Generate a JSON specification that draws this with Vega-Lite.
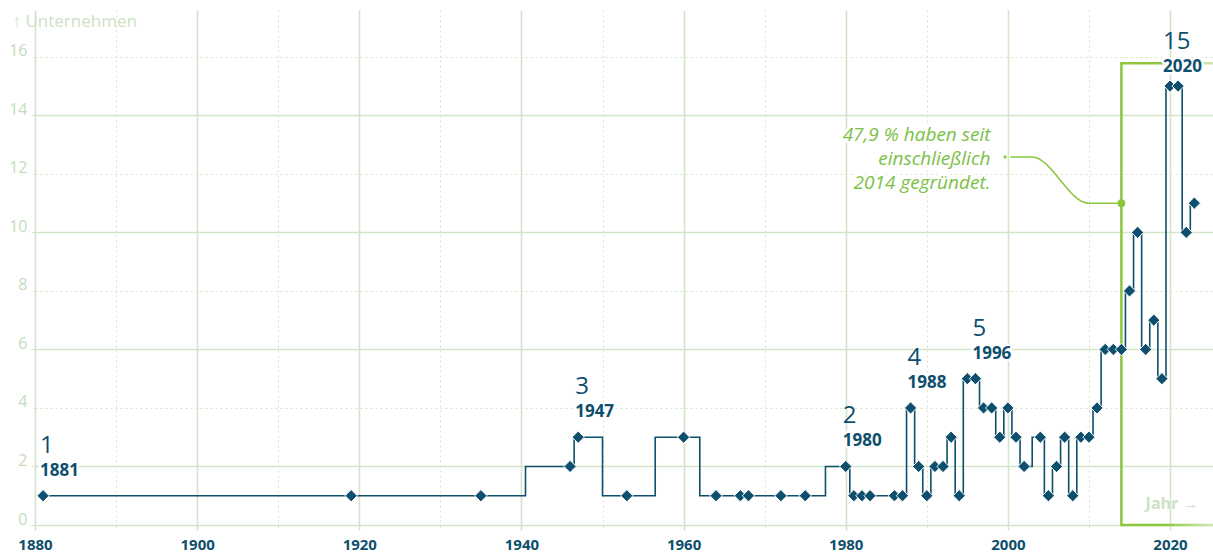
{
  "$schema": "https://vega.github.io/schema/vega-lite/v6.json",
  "width": 1178,
  "height": 515,
  "autosize": {"type": "none"},
  "padding": {"left": 35, "top": 10, "right": 0, "bottom": 28},
  "background": "white",
  "config": {
    "view": {"stroke": null},
    "font": "Open Sans"
  },
  "datasets": {
    "main": [
      {"year": 1881, "n": 1, "label": true},
      {"year": 1919, "n": 1, "label": false},
      {"year": 1935, "n": 1, "label": false},
      {"year": 1946, "n": 2, "label": false},
      {"year": 1947, "n": 3, "label": true},
      {"year": 1953, "n": 1, "label": false},
      {"year": 1960, "n": 3, "label": false},
      {"year": 1964, "n": 1, "label": false},
      {"year": 1967, "n": 1, "label": false},
      {"year": 1968, "n": 1, "label": false},
      {"year": 1972, "n": 1, "label": false},
      {"year": 1975, "n": 1, "label": false},
      {"year": 1980, "n": 2, "label": true},
      {"year": 1981, "n": 1, "label": false},
      {"year": 1982, "n": 1, "label": false},
      {"year": 1983, "n": 1, "label": false},
      {"year": 1986, "n": 1, "label": false},
      {"year": 1987, "n": 1, "label": false},
      {"year": 1988, "n": 4, "label": true},
      {"year": 1989, "n": 2, "label": false},
      {"year": 1990, "n": 1, "label": false},
      {"year": 1991, "n": 2, "label": false},
      {"year": 1992, "n": 2, "label": false},
      {"year": 1993, "n": 3, "label": false},
      {"year": 1994, "n": 1, "label": false},
      {"year": 1995, "n": 5, "label": false},
      {"year": 1996, "n": 5, "label": true},
      {"year": 1997, "n": 4, "label": false},
      {"year": 1998, "n": 4, "label": false},
      {"year": 1999, "n": 3, "label": false},
      {"year": 2000, "n": 4, "label": false},
      {"year": 2001, "n": 3, "label": false},
      {"year": 2002, "n": 2, "label": false},
      {"year": 2004, "n": 3, "label": false},
      {"year": 2005, "n": 1, "label": false},
      {"year": 2006, "n": 2, "label": false},
      {"year": 2007, "n": 3, "label": false},
      {"year": 2008, "n": 1, "label": false},
      {"year": 2009, "n": 3, "label": false},
      {"year": 2010, "n": 3, "label": false},
      {"year": 2011, "n": 4, "label": false},
      {"year": 2012, "n": 6, "label": false},
      {"year": 2013, "n": 6, "label": false},
      {"year": 2014, "n": 6, "label": false},
      {"year": 2015, "n": 8, "label": false},
      {"year": 2016, "n": 10, "label": false},
      {"year": 2017, "n": 6, "label": false},
      {"year": 2018, "n": 7, "label": false},
      {"year": 2019, "n": 5, "label": false},
      {"year": 2020, "n": 15, "label": true},
      {"year": 2021, "n": 15, "label": false},
      {"year": 2022, "n": 10, "label": false},
      {"year": 2023, "n": 11, "label": false}
    ]
  },
  "encoding": {
    "x": {
      "field": "year",
      "type": "quantitative",
      "scale": {"domain": [1880, 2025.3], "nice": false, "zero": false},
      "axis": {
        "values": [1880, 1890, 1900, 1910, 1920, 1930, 1940, 1950, 1960, 1970, 1980, 1990, 2000, 2010, 2020],
        "format": "d",
        "labelExpr": "datum.value % 20 === 0 ? datum.label : ''",
        "labelFont": "Open Sans",
        "labelFontSize": 15,
        "labelFontWeight": "bold",
        "labelColor": "#0d4f6c",
        "labelPadding": 7,
        "labelFlush": false,
        "labelOverlap": false,
        "domain": false,
        "ticks": true,
        "tickSize": 5,
        "tickColor": "#d2e5cb",
        "tickWidth": {"condition": {"test": "datum.value % 20 === 0", "value": 1.6}, "value": 1},
        "tickDash": {"condition": {"test": "datum.value % 20 === 0", "value": []}, "value": [2, 3]},
        "grid": true,
        "gridColor": "#d2e5cb",
        "gridWidth": {"condition": {"test": "datum.value % 20 === 0", "value": 1.6}, "value": 1},
        "gridDash": {"condition": {"test": "datum.value % 20 === 0", "value": []}, "value": [2, 3]},
        "title": "Jahr →",
        "titleFont": "Open Sans",
        "titleFontSize": 16,
        "titleFontWeight": "bold",
        "titleColor": "#cde2c6",
        "titleAlign": "right",
        "titleBaseline": "middle",
        "titleAnchor": null,
        "titleX": 1163,
        "titleY": -22
      }
    },
    "y": {
      "field": "n",
      "type": "quantitative",
      "scale": {"domain": [0, 17.6], "nice": false},
      "axis": {
        "values": [0, 2, 4, 6, 8, 10, 12, 14, 16],
        "labelFont": "Open Sans",
        "labelFontSize": 16,
        "labelColor": "#c3ddbb",
        "labelBaseline": "alphabetic",
        "labelPadding": 4,
        "labelOffset": -1,
        "domain": false,
        "ticks": true,
        "tickSize": 4,
        "tickColor": "#d2e5cb",
        "tickDash": {"condition": {"test": "datum.value % 4 === 0 && datum.value > 0", "value": [2, 3]}, "value": []},
        "grid": true,
        "gridColor": "#d2e5cb",
        "gridWidth": {"condition": {"test": "datum.value % 4 === 0 && datum.value > 0", "value": 1}, "value": 1.6},
        "gridDash": {"condition": {"test": "datum.value % 4 === 0 && datum.value > 0", "value": [2, 3]}, "value": []},
        "title": "↑ Unternehmen",
        "titleFont": "Open Sans",
        "titleFontSize": 17,
        "titleFontWeight": "normal",
        "titleColor": "#cde2c6",
        "titleAngle": 0,
        "titleAlign": "left",
        "titleBaseline": "middle",
        "titleAnchor": null,
        "titleX": -23,
        "titleY": 11
      }
    }
  },
  "layer": [
    {
      "data": {"values": [{"x": 2014, "x2": 2027, "y": 0, "y2": 15.78}]},
      "mark": {
        "type": "rect",
        "fill": null,
        "strokeWidth": 2.5,
        "clip": false,
        "stroke": {
          "gradient": "linear", "x1": 0, "y1": 0, "x2": 1, "y2": 0,
          "stops": [
            {"offset": 0, "color": "#8cc63f"},
            {"offset": 0.4, "color": "#8cc63f"},
            {"offset": 1, "color": "#e3f1d6"}
          ]
        }
      },
      "encoding": {
        "x": {"field": "x", "type": "quantitative"},
        "x2": {"field": "x2"},
        "y": {"field": "y", "type": "quantitative"},
        "y2": {"field": "y2"}
      }
    },
    {
      "data": {"values": [
        {"x": 2000.3, "y": 12.58},
        {"x": 2003.0, "y": 12.58},
        {"x": 2009.9, "y": 11.0},
        {"x": 2014, "y": 11.0}
      ]},
      "mark": {"type": "line", "interpolate": "monotone", "color": "#8cc63f", "strokeWidth": 1.5},
      "encoding": {
        "x": {"field": "x", "type": "quantitative"},
        "y": {"field": "y", "type": "quantitative"}
      }
    },
    {
      "data": {"values": [{"x": 1999.65, "y": 12.58, "s": 10}, {"x": 2014, "y": 11.0, "s": 60}]},
      "mark": {"type": "circle", "color": "#8cc63f", "opacity": 1},
      "encoding": {
        "x": {"field": "x", "type": "quantitative"},
        "y": {"field": "y", "type": "quantitative"},
        "size": {"field": "s", "type": "quantitative", "scale": null, "legend": null}
      }
    },
    {
      "data": {"values": [{"x": 1997.85, "y": 13.33, "t": ["47,9 % haben seit", "einschließlich", "2014 gegründet."]}]},
      "mark": {"type": "text", "align": "right", "baseline": "middle", "font": "Open Sans", "fontSize": 19, "fontStyle": "italic", "lineHeight": 24, "stroke": "white", "strokeWidth": 5, "strokeJoin": "round", "fill": "white"},
      "encoding": {
        "x": {"field": "x", "type": "quantitative"},
        "y": {"field": "y", "type": "quantitative"},
        "text": {"field": "t"}
      }
    },
    {
      "data": {"values": [{"x": 1997.85, "y": 13.33, "t": ["47,9 % haben seit", "einschließlich", "2014 gegründet."]}]},
      "mark": {"type": "text", "align": "right", "baseline": "middle", "font": "Open Sans", "fontSize": 19, "fontStyle": "italic", "lineHeight": 24, "color": "#7cbf45"},
      "encoding": {
        "x": {"field": "x", "type": "quantitative"},
        "y": {"field": "y", "type": "quantitative"},
        "text": {"field": "t"}
      }
    },
    {
      "data": {"name": "main"},
      "mark": {"type": "line", "interpolate": "step", "color": "#0d4f6c", "strokeWidth": 1.6}
    },
    {
      "data": {"name": "main"},
      "mark": {"type": "point", "shape": "diamond", "filled": true, "size": 150, "color": "#0d4f6c", "stroke": "white", "strokeWidth": 1, "opacity": 1}
    },
    {
      "data": {"name": "main"},
      "transform": [{"filter": "datum.label && datum.year !== 2020"}],
      "layer": [
        {
          "mark": {"type": "text", "align": "left", "baseline": "alphabetic", "dx": -3, "dy": -20, "font": "Open Sans", "fontSize": 17, "fontWeight": "bold", "stroke": "white", "strokeWidth": 5, "strokeJoin": "round", "fill": "white"},
          "encoding": {"text": {"field": "year", "type": "quantitative", "format": "d"}}
        },
        {
          "mark": {"type": "text", "align": "left", "baseline": "alphabetic", "dx": -3, "dy": -20, "font": "Open Sans", "fontSize": 17, "fontWeight": "bold", "color": "#0d4f6c"},
          "encoding": {"text": {"field": "year", "type": "quantitative", "format": "d"}}
        },
        {
          "mark": {"type": "text", "align": "left", "baseline": "alphabetic", "dx": -3, "dy": -43, "font": "Open Sans", "fontSize": 24, "color": "#0d4f6c"},
          "encoding": {"text": {"field": "n", "type": "quantitative"}}
        }
      ]
    },
    {
      "data": {"name": "main"},
      "transform": [{"filter": "datum.year === 2020"}],
      "layer": [
        {
          "mark": {"type": "text", "align": "left", "baseline": "alphabetic", "dx": -7, "dy": -14, "font": "Open Sans", "fontSize": 17, "fontWeight": "bold", "stroke": "white", "strokeWidth": 5, "strokeJoin": "round", "fill": "white"},
          "encoding": {"text": {"field": "year", "type": "quantitative", "format": "d"}}
        },
        {
          "mark": {"type": "text", "align": "left", "baseline": "alphabetic", "dx": -7, "dy": -14, "font": "Open Sans", "fontSize": 17, "fontWeight": "bold", "color": "#0d4f6c"},
          "encoding": {"text": {"field": "year", "type": "quantitative", "format": "d"}}
        },
        {
          "mark": {"type": "text", "align": "left", "baseline": "alphabetic", "dx": -7, "dy": -37, "font": "Open Sans", "fontSize": 24, "color": "#0d4f6c"},
          "encoding": {"text": {"field": "n", "type": "quantitative"}}
        }
      ]
    }
  ]
}
